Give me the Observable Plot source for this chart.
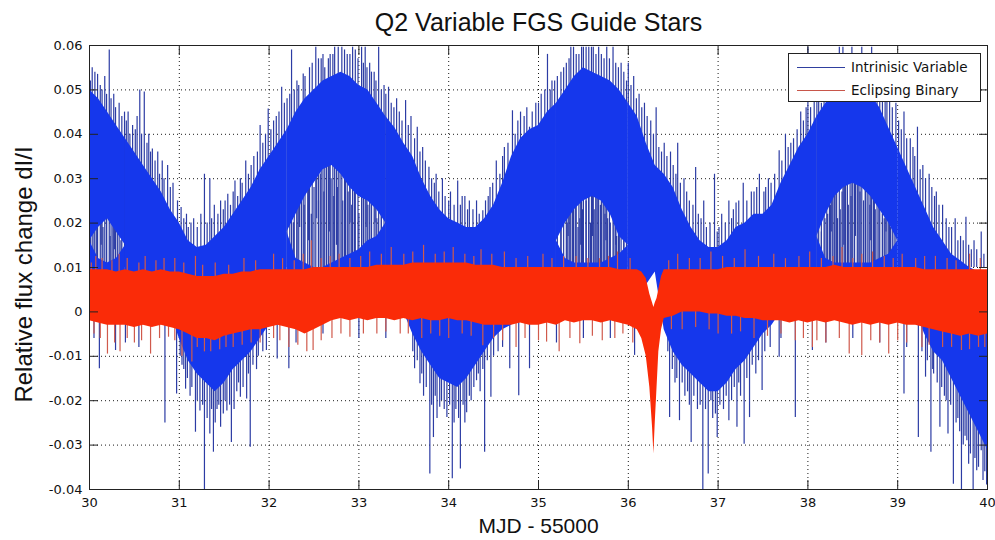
<!DOCTYPE html>
<html><head><meta charset="utf-8">
<script src="https://cdn.jsdelivr.net/npm/d3@7"></script>
<script src="https://cdn.jsdelivr.net/npm/@observablehq/plot@0.6"></script>
<style>
html,body{margin:0;padding:0;background:#fff;}
#wrap{position:relative;width:995px;height:540px;overflow:hidden;}
#legend{position:absolute;left:788px;top:53px;width:191px;height:47px;border:1px solid #222;background:#fff;font-family:"DejaVu Sans";font-size:13.5px;color:#111;}
.row{position:absolute;left:8px;height:20px;display:flex;align-items:center;white-space:nowrap;}
.sw{width:48px;height:0;border-top:1.5px solid;margin-right:6px;}
</style></head><body>
<div id="wrap"><div id="chart"></div>
<div id="legend">
  <div class="row" style="top:3px"><span class="sw" style="border-color:#2f3f9f"></span><span id="l1"></span></div>
  <div class="row" style="top:26px"><span class="sw" style="border-color:#c8564a"></span><span id="l2"></span></div>
</div></div>
<script>
const titleText = "Q2 Variable FGS Guide Stars";
const xLabelText = "MJD - 55000";
const yLabelText = "Relative flux change dI/I";
const seriesNames = ["Intrinisic Variable", "Eclipsing Binary"];
const xTicks = [30, 31, 32, 33, 34, 35, 36, 37, 38, 39, 40];
const xTickLabels = ["30", "31", "32", "33", "34", "35", "36", "37", "38", "39", "40"];
const yTicks = [-0.04, -0.03, -0.02, -0.01, 0, 0.01, 0.02, 0.03, 0.04, 0.05, 0.06];
const yTickLabels = ["-0.04", "-0.03", "-0.02", "-0.01", "0", "0.01", "0.02", "0.03", "0.04", "0.05", "0.06"];

// Sample positions (MJD - 55000) for the dense envelopes
const sampleX = [
  30.0, 30.1, 30.2, 30.3, 30.4, 30.5, 30.6, 30.7, 30.8, 30.9,
  31.0, 31.1, 31.2, 31.3, 31.4, 31.5, 31.6, 31.7, 31.8, 31.9,
  32.0, 32.1, 32.2, 32.3, 32.4, 32.5, 32.6, 32.7, 32.8, 32.9,
  33.0, 33.1, 33.2, 33.3, 33.4, 33.5, 33.6, 33.7, 33.8, 33.9,
  34.0, 34.1, 34.2, 34.3, 34.4, 34.5, 34.6, 34.7, 34.8, 34.9,
  35.0, 35.1, 35.2, 35.3, 35.4, 35.5, 35.6, 35.7, 35.8, 35.9,
  36.0, 36.1, 36.2, 36.3, 36.4, 36.5, 36.6, 36.7, 36.8, 36.9,
  37.0, 37.1, 37.2, 37.3, 37.4, 37.5, 37.6, 37.7, 37.8, 37.9,
  38.0, 38.1, 38.2, 38.3, 38.4, 38.5, 38.6, 38.7, 38.8, 38.9,
  39.0, 39.1, 39.2, 39.3, 39.4, 39.5, 39.6, 39.7, 39.8, 39.9,
  40.0];

// Intrinsic variable: upper / lower edge of the dense band
const blueHi = [
  0.050, 0.048, 0.045, 0.042, 0.039, 0.036, 0.033, 0.030, 0.027, 0.023,
  0.020, 0.016, 0.0145, 0.015, 0.017, 0.019, 0.022, 0.025, 0.028, 0.032,
  0.035, 0.038, 0.041, 0.045, 0.048, 0.050, 0.052, 0.053, 0.054, 0.053,
  0.051, 0.050, 0.047, 0.044, 0.0415, 0.038, 0.035, 0.030, 0.026, 0.023,
  0.021, 0.020, 0.019, 0.019, 0.021, 0.024, 0.029, 0.035, 0.039, 0.041,
  0.042, 0.045, 0.047, 0.050, 0.053, 0.055, 0.054, 0.053, 0.052, 0.050,
  0.047, 0.044, 0.038, 0.033, 0.031, 0.028, 0.023, 0.019, 0.016, 0.0145,
  0.0145, 0.016, 0.019, 0.020, 0.022, 0.022, 0.024, 0.029, 0.033, 0.037,
  0.040, 0.044, 0.047, 0.050, 0.051, 0.0505, 0.050, 0.049, 0.046, 0.0415,
  0.037, 0.0325, 0.028, 0.0235, 0.019, 0.016, 0.013, 0.0115, 0.010, 0.009,
  0.009];
const blueLo = [
  0, 0, 0, 0, 0, 0, 0, 0, 0, 0,
  -0.006, -0.011, -0.014, -0.016, -0.018, -0.016, -0.013, -0.011, -0.009, -0.006,
  -0.003, 0, 0, 0, 0, 0, 0, 0, 0, 0,
  0, 0, 0, 0, 0, 0, -0.005, -0.009, -0.012, -0.015,
  -0.016, -0.017, -0.015, -0.012, -0.009, -0.006, -0.004, -0.003, 0, 0,
  0, 0, 0, 0, 0, 0, 0, 0, 0, 0,
  0, 0, 0.006, 0.009, -0.004, -0.009, -0.012, -0.014, -0.016, -0.018,
  -0.018, -0.016, -0.013, -0.011, -0.008, -0.005, -0.003, 0, 0, 0,
  0, 0, 0, 0, 0, 0, 0, 0, 0, 0,
  0, 0, 0, -0.005, -0.009, -0.011, -0.015, -0.019, -0.023, -0.027,
  -0.031];
// Sparse (mostly white) notches inside the blue band near the maxima
const gapTop = [
  0.016, 0.019, 0.021, 0.018, 0.015, null, null, null, null, null,
  null, null, null, null, null, null, null, null, null, null,
  null, null, 0.018, 0.022, 0.026, 0.029, 0.032, 0.033, 0.031, 0.028,
  0.026, 0.025, 0.023, 0.020, null, null, null, null, null, null,
  null, null, null, null, null, null, null, null, null, null,
  null, null, 0.016, 0.020, 0.023, 0.025, 0.026, 0.025, 0.022, 0.017,
  0.015, null, null, null, null, null, null, null, null, null,
  null, null, null, null, null, null, null, null, null, null,
  null, 0.017, 0.022, 0.026, 0.028, 0.029, 0.028, 0.026, 0.023, 0.020,
  0.016, null, null, null, null, null, null, null, null, null,
  null];
const gapBottom = [
  0.016, 0.012, 0.011, 0.012, 0.015, null, null, null, null, null,
  null, null, null, null, null, null, null, null, null, null,
  null, null, 0.018, 0.012, 0.011, 0.010, 0.010, 0.011, 0.012, 0.013,
  0.014, 0.016, 0.017, 0.020, null, null, null, null, null, null,
  null, null, null, null, null, null, null, null, null, null,
  null, null, 0.016, 0.012, 0.011, 0.011, 0.011, 0.011, 0.012, 0.013,
  0.015, null, null, null, null, null, null, null, null, null,
  null, null, null, null, null, null, null, null, null, null,
  null, 0.017, 0.012, 0.011, 0.011, 0.011, 0.011, 0.011, 0.012, 0.013,
  0.016, null, null, null, null, null, null, null, null, null,
  null];

// Intrinsic variable: individual excursions [x, tip]
const blueSpikeUpBase = 0.010;
const blueSpikesUp = [
  [30.01,0.052],[30.06,0.054],[30.09,0.0535],[30.17,0.053],[30.22,0.059],[30.29,0.046],[30.33,0.047],[30.39,0.045],[30.43,0.045],[30.48,0.042],
  [30.56,0.050],[30.61,0.0495],[30.66,0.040],[30.70,0.0367],[30.76,0.036],[30.81,0.034],[30.87,0.033],[30.93,0.029],[31.02,0.0235],[31.08,0.022],
  [31.16,0.021],[31.28,0.031],[31.34,0.030],[31.39,0.024],[31.46,0.025],[31.54,0.0265],[31.62,0.0295],[31.68,0.030],[31.74,0.034],[31.83,0.035],
  [31.90,0.042],[31.99,0.0457],[32.05,0.043],[32.14,0.0506],[32.20,0.048],[32.25,0.059],[32.33,0.051],[32.38,0.0536],[32.45,0.055],[32.52,0.0596],
  [32.58,0.057],[32.62,0.055],[32.68,0.058],[32.73,0.0596],[32.81,0.0596],[32.87,0.058],[32.96,0.059],[33.03,0.0596],[33.07,0.0596],[33.12,0.056],
  [33.17,0.054],[33.22,0.0596],[33.28,0.051],[33.33,0.0506],[33.42,0.048],[33.52,0.0476],[33.58,0.044],[33.65,0.0416],[33.71,0.037],[33.78,0.0326],
  [33.86,0.031],[33.93,0.030],[34.02,0.027],[34.10,0.0295],[34.18,0.026],[34.23,0.025],[34.31,0.025],[34.38,0.0228],[34.46,0.028],[34.53,0.034],
  [34.62,0.037],[34.71,0.0453],[34.80,0.045],[34.90,0.0416],[34.97,0.047],[35.10,0.058],[35.18,0.052],[35.28,0.055],[35.36,0.0596],[35.42,0.058],
  [35.50,0.0596],[35.56,0.0596],[35.61,0.0596],[35.70,0.058],[35.76,0.0596],[35.83,0.0596],[35.92,0.056],[36.00,0.056],[36.06,0.053],[36.12,0.049],
  [36.18,0.047],[36.25,0.043],[36.31,0.046],[36.40,0.038],[36.47,0.036],[36.55,0.038],[36.62,0.030],[36.75,0.0325],[36.84,0.025],[36.96,0.031],
  [37.04,0.022],[37.12,0.025],[37.20,0.0245],[37.28,0.029],[37.37,0.027],[37.46,0.031],[37.56,0.030],[37.68,0.0363],[37.75,0.040],[37.84,0.039],
  [37.92,0.045],[38.00,0.0596],[38.07,0.048],[38.15,0.047],[38.24,0.054],[38.35,0.0596],[38.42,0.058],[38.52,0.057],[38.60,0.0596],[38.71,0.0596],
  [38.80,0.054],[38.88,0.050],[38.98,0.047],[39.07,0.045],[39.14,0.039],[39.22,0.0416],[39.28,0.033],[39.35,0.031],[39.43,0.027],[39.50,0.024],
  [39.57,0.019],[39.64,0.021],[39.70,0.017],[39.76,0.0213],[39.85,0.016],[39.93,0.018],[40.00,0.0228],
  // ragged upper edge
  [30.03,0.055],[30.12,0.051],[30.14,0.050],[30.19,0.049],[30.24,0.048],[30.27,0.049],[30.36,0.044],[30.41,0.043],[30.45,0.040],[30.51,0.041],
  [30.53,0.044],[30.58,0.040],[30.64,0.038],[30.68,0.036],[30.73,0.034],[30.78,0.031],[30.83,0.030],[30.90,0.028],[30.98,0.025],[31.05,0.021],
  [31.10,0.019],[31.13,0.020],[31.20,0.019],[31.24,0.022],[31.31,0.020],[31.36,0.021],[31.43,0.022],[31.49,0.023],[31.51,0.025],[31.57,0.024],
  [31.60,0.027],[31.65,0.026],[31.70,0.029],[31.77,0.031],[31.80,0.033],[31.87,0.036],[31.93,0.038],[31.96,0.040],[32.02,0.041],[32.08,0.044],
  [32.11,0.045],[32.17,0.047],[32.23,0.049],[32.28,0.050],[32.31,0.052],[32.40,0.053],[32.48,0.056],[32.55,0.057],[32.60,0.058],[32.66,0.057],
  [32.71,0.058],[32.77,0.0596],[32.84,0.059],[32.90,0.058],[32.93,0.0596],[32.99,0.057],[33.05,0.056],[33.09,0.055],[33.14,0.054],[33.19,0.052],
  [33.25,0.050],[33.30,0.049],[33.36,0.047],[33.39,0.046],[33.45,0.045],[33.48,0.043],[33.55,0.042],[33.62,0.039],[33.68,0.036],[33.74,0.034],
  [33.81,0.030],[33.84,0.029],[33.89,0.027],[33.96,0.026],[34.00,0.025],[34.06,0.024],[34.13,0.024],[34.15,0.026],[34.21,0.023],[34.27,0.023],
  [34.34,0.022],[34.41,0.025],[34.44,0.026],[34.49,0.029],[34.57,0.031],[34.60,0.035],[34.66,0.038],[34.74,0.040],[34.77,0.043],[34.84,0.044],
  [34.87,0.046],[34.93,0.045],[35.00,0.047],[35.03,0.049],[35.07,0.050],[35.13,0.050],[35.15,0.052],[35.21,0.053],[35.25,0.054],[35.31,0.056],
  [35.34,0.057],[35.39,0.0596],[35.45,0.058],[35.48,0.0596],[35.53,0.0596],[35.59,0.0596],[35.64,0.058],[35.67,0.0596],[35.73,0.057],[35.79,0.057],
  [35.86,0.056],[35.89,0.055],[35.95,0.054],[35.98,0.052],[36.03,0.051],[36.09,0.048],[36.15,0.046],[36.21,0.044],[36.28,0.040],[36.34,0.037],
  [36.37,0.036],[36.43,0.035],[36.50,0.033],[36.53,0.031],[36.58,0.029],[36.65,0.027],[36.68,0.025],[36.72,0.024],[36.78,0.022],[36.81,0.021],
  [36.87,0.019],[36.91,0.020],[36.99,0.018],[37.01,0.019],[37.08,0.020],[37.15,0.021],[37.17,0.023],[37.23,0.025],[37.32,0.025],[37.40,0.027],
  [37.43,0.028],[37.51,0.027],[37.53,0.028],[37.59,0.029],[37.63,0.031],[37.71,0.034],[37.78,0.037],[37.81,0.038],[37.88,0.041],[37.95,0.043],
  [37.98,0.046],[38.03,0.046],[38.10,0.049],[38.12,0.050],[38.18,0.052],[38.21,0.053],[38.27,0.055],[38.30,0.056],[38.32,0.057],[38.39,0.0596],
  [38.44,0.057],[38.47,0.056],[38.49,0.0596],[38.56,0.056],[38.58,0.058],[38.64,0.056],[38.68,0.057],[38.74,0.055],[38.77,0.054],[38.83,0.052],
  [38.86,0.050],[38.91,0.048],[38.94,0.046],[39.01,0.043],[39.04,0.041],[39.10,0.039],[39.17,0.037],[39.19,0.035],[39.25,0.032],[39.31,0.030],
  [39.38,0.028],[39.41,0.026],[39.46,0.024],[39.54,0.021],[39.60,0.019],[39.67,0.016],[39.73,0.016],[39.79,0.015],[39.82,0.014],[39.88,0.014],
  [39.96,0.013],
  // lines rising through the notches
  [30.05,0.018],[30.08,0.022],[30.15,0.019],[30.19,0.024],[30.23,0.017],[30.26,0.021],[30.31,0.019],[30.35,0.016],
  [32.27,0.020],[32.31,0.023],[32.36,0.026],[32.39,0.024],[32.43,0.030],[32.47,0.022],[32.50,0.028],[32.55,0.025],[32.57,0.031],[32.61,0.027],
  [32.64,0.033],[32.69,0.030],[32.72,0.026],[32.76,0.028],[32.79,0.033],[32.82,0.025],[32.85,0.031],[32.88,0.027],[32.92,0.024],[32.95,0.029],
  [33.00,0.022],[33.05,0.026],[33.10,0.024],[33.14,0.025],[33.20,0.021],[33.25,0.023],
  [35.25,0.019],[35.32,0.020],[35.35,0.022],[35.38,0.024],[35.41,0.026],[35.44,0.019],[35.46,0.021],[35.49,0.023],[35.53,0.025],[35.56,0.027],
  [35.58,0.020],[35.62,0.023],[35.64,0.028],[35.66,0.026],[35.69,0.024],[35.72,0.027],[35.74,0.022],[35.77,0.021],[35.80,0.020],[35.84,0.023],
  [35.87,0.017],[35.90,0.019],[35.95,0.016],
  [38.15,0.018],[38.19,0.021],[38.22,0.022],[38.25,0.024],[38.28,0.026],[38.30,0.028],[38.33,0.021],[38.36,0.023],[38.38,0.027],[38.41,0.029],
  [38.45,0.024],[38.48,0.026],[38.50,0.030],[38.55,0.029],[38.58,0.027],[38.62,0.025],[38.64,0.029],[38.66,0.028],[38.69,0.024],[38.73,0.027],
  [38.75,0.023],[38.79,0.025],[38.83,0.022],[38.85,0.021],[38.90,0.022],[38.92,0.019],[38.96,0.018]];
// lines hanging from the upper band into the notches [x, lower end]
const blueHangBase = 0.040;
const blueHang = [
  [30.13,0.015],[30.28,0.014],[32.34,0.019],[32.44,0.016],[32.53,0.021],[32.67,0.018],[32.75,0.015],[32.90,0.020],[33.08,0.019],[33.18,0.020],
  [35.33,0.017],[35.47,0.015],[35.60,0.017],[35.75,0.016],[35.86,0.015],[38.26,0.018],[38.40,0.015],[38.53,0.017],[38.70,0.016],[38.87,0.018]];
const blueSpikeDownBase = 0.0;
const blueSpikesDown = [
  [30.11,-0.0128],[30.29,-0.0087],[30.84,-0.025],[30.97,-0.0185],[31.03,-0.012],[31.07,-0.0174],[31.12,-0.019],[31.18,-0.0271],[31.23,-0.0223],[31.28,-0.040],
  [31.34,-0.0275],[31.38,-0.0316],[31.42,-0.022],[31.46,-0.026],[31.53,-0.0223],[31.58,-0.0294],[31.64,-0.018],[31.68,-0.0192],[31.75,-0.0196],[31.79,-0.0305],
  [31.86,-0.013],[31.97,-0.0087],[32.09,-0.0106],[32.22,-0.0128],[33.62,-0.0128],[33.68,-0.0162],[33.72,-0.019],[33.79,-0.0365],[33.83,-0.0283],[33.87,-0.024],
  [33.90,-0.0215],[33.98,-0.0238],[34.04,-0.0376],[34.08,-0.022],[34.13,-0.0354],[34.20,-0.0227],[34.25,-0.020],[34.31,-0.0155],[34.35,-0.018],[34.40,-0.0316],
  [34.47,-0.0192],[34.68,-0.0128],[34.78,-0.0189],[34.90,-0.0128],[36.07,-0.0098],[36.46,-0.0238],[36.52,-0.016],[36.57,-0.0245],[36.63,-0.019],[36.70,-0.0294],
  [36.77,-0.022],[36.83,-0.040],[36.89,-0.0365],[36.94,-0.024],[36.99,-0.0283],[37.06,-0.022],[37.12,-0.0245],[37.21,-0.026],[37.25,-0.019],[37.29,-0.0298],
  [37.35,-0.0238],[37.42,-0.014],[37.49,-0.0177],[37.68,-0.0102],[37.86,-0.0238],[38.05,-0.0087],[39.07,-0.0185],[39.23,-0.0283],[39.31,-0.0147],[39.37,-0.0316],
  [39.40,-0.014],[39.47,-0.026],[39.52,-0.019],[39.56,-0.0275],[39.62,-0.0388],[39.67,-0.024],[39.71,-0.040],[39.75,-0.028],[39.79,-0.0343],[39.84,-0.040],
  [39.88,-0.0358],[39.93,-0.0313],[39.97,-0.036],
  // ragged lower edge
  [31.01,-0.010],[31.05,-0.013],[31.09,-0.015],[31.14,-0.017],[31.20,-0.020],[31.26,-0.021],[31.31,-0.024],[31.36,-0.022],[31.40,-0.025],[31.44,-0.021],
  [31.49,-0.023],[31.51,-0.020],[31.56,-0.021],[31.61,-0.022],[31.66,-0.016],[31.71,-0.017],[31.77,-0.014],[31.82,-0.012],[31.88,-0.010],[31.93,-0.009],
  [33.60,-0.009],[33.65,-0.011],[33.70,-0.014],[33.75,-0.017],[33.81,-0.021],[33.85,-0.019],[33.92,-0.020],[33.95,-0.022],[34.01,-0.021],[34.06,-0.025],
  [34.11,-0.024],[34.16,-0.021],[34.18,-0.025],[34.23,-0.019],[34.28,-0.017],[34.33,-0.014],[34.38,-0.013],[34.43,-0.011],[34.50,-0.010],[34.55,-0.009],
  [34.60,-0.008],[36.44,-0.009],[36.49,-0.013],[36.54,-0.015],[36.60,-0.016],[36.66,-0.018],[36.68,-0.021],[36.73,-0.019],[36.80,-0.021],[36.86,-0.022],
  [36.92,-0.020],[36.97,-0.023],[37.02,-0.021],[37.09,-0.019],[37.15,-0.020],[37.18,-0.017],[37.23,-0.016],[37.32,-0.015],[37.38,-0.012],[37.45,-0.011],
  [37.52,-0.009],[37.58,-0.008],[39.27,-0.009],[39.33,-0.011],[39.39,-0.013],[39.44,-0.016],[39.49,-0.017],[39.54,-0.020],[39.59,-0.021],[39.65,-0.025],
  [39.69,-0.027],[39.73,-0.030],[39.77,-0.029],[39.81,-0.032],[39.86,-0.033],[39.90,-0.035],[39.95,-0.038],[39.99,-0.039],
  [30.05,-0.006],[30.40,-0.007],[30.55,-0.008],[32.30,-0.007],[32.60,-0.005],[33.00,-0.006],[33.30,-0.006],[35.20,-0.007],[35.50,-0.006],[35.80,-0.006],
  [37.70,-0.006],[38.20,-0.007],[38.50,-0.006],[38.80,-0.007],[39.10,-0.008]];

// Eclipsing binary: band edges (with extra samples through the eclipse)
const redX = [
  30.0, 30.1, 30.2, 30.3, 30.4, 30.5, 30.6, 30.7, 30.8, 30.9,
  31.0, 31.1, 31.2, 31.3, 31.4, 31.5, 31.6, 31.7, 31.8, 31.9,
  32.0, 32.1, 32.2, 32.3, 32.4, 32.5, 32.6, 32.7, 32.8, 32.9,
  33.0, 33.1, 33.2, 33.3, 33.4, 33.5, 33.6, 33.7, 33.8, 33.9,
  34.0, 34.1, 34.2, 34.3, 34.4, 34.5, 34.6, 34.7, 34.8, 34.9,
  35.0, 35.1, 35.2, 35.3, 35.4, 35.5, 35.6, 35.7, 35.8, 35.9,
  36.0, 36.1,
  36.15, 36.2, 36.24, 36.27, 36.285, 36.3, 36.32, 36.34, 36.37, 36.4,
  36.5, 36.6, 36.7, 36.8, 36.9,
  37.0, 37.1, 37.2, 37.3, 37.4, 37.5, 37.6, 37.7, 37.8, 37.9,
  38.0, 38.1, 38.2, 38.3, 38.4, 38.5, 38.6, 38.7, 38.8, 38.9,
  39.0, 39.1, 39.2, 39.3, 39.4, 39.5, 39.6, 39.7, 39.8, 39.9,
  40.0];
const redHi = [
  0.0095, 0.0095, 0.0095, 0.009, 0.0095, 0.009, 0.0095, 0.009, 0.0095, 0.009,
  0.009, 0.0085, 0.008, 0.008, 0.008, 0.0085, 0.0085, 0.009, 0.009, 0.0095,
  0.0095, 0.0095, 0.0095, 0.0095, 0.0095, 0.010, 0.010, 0.010, 0.010, 0.010,
  0.010, 0.010, 0.0105, 0.0105, 0.0105, 0.0105, 0.011, 0.011, 0.011, 0.011,
  0.011, 0.011, 0.011, 0.0105, 0.0105, 0.0105, 0.010, 0.010, 0.010, 0.010,
  0.010, 0.010, 0.010, 0.010, 0.010, 0.010, 0.010, 0.010, 0.010, 0.0095,
  0.0095, 0.0095,
  0.009, 0.0075, 0.004, 0.002, 0.001, 0.002, 0.003, 0.005, 0.008, 0.0095,
  0.0095, 0.0095, 0.0095, 0.0095, 0.0095,
  0.0095, 0.010, 0.010, 0.010, 0.010, 0.010, 0.010, 0.010, 0.010, 0.010,
  0.010, 0.010, 0.010, 0.0105, 0.010, 0.010, 0.010, 0.010, 0.010, 0.010,
  0.010, 0.010, 0.010, 0.0095, 0.0095, 0.0095, 0.0095, 0.0095, 0.0095, 0.0095,
  0.0095];
const redLo = [
  -0.002, -0.0025, -0.003, -0.003, -0.003, -0.0035, -0.003, -0.0035, -0.003, -0.0035,
  -0.004, -0.005, -0.006, -0.006, -0.0065, -0.0055, -0.005, -0.0045, -0.004, -0.004,
  -0.0035, -0.003, -0.0035, -0.004, -0.005, -0.004, -0.003, -0.002, -0.0015, -0.002,
  -0.0015, -0.002, -0.0015, -0.0015, -0.002, -0.0015, -0.002, -0.0015, -0.002, -0.002,
  -0.0015, -0.002, -0.002, -0.0025, -0.003, -0.003, -0.003, -0.003, -0.0025, -0.003,
  -0.003, -0.0025, -0.003, -0.002, -0.0025, -0.002, -0.002, -0.0025, -0.002, -0.0025,
  -0.003, -0.004,
  -0.006, -0.010, -0.017, -0.026, -0.032, -0.025, -0.017, -0.009, -0.004, -0.0015,
  -0.001, 0, 0, 0, -0.0005,
  -0.0005, -0.001, -0.001, -0.0015, -0.0015, -0.002, -0.002, -0.002, -0.0025, -0.002,
  -0.0025, -0.002, -0.0025, -0.002, -0.0025, -0.003, -0.0025, -0.003, -0.0025, -0.003,
  -0.0025, -0.003, -0.003, -0.0035, -0.004, -0.0045, -0.005, -0.0055, -0.005, -0.0055,
  -0.005];
const redSpikeBase = 0.003;
const redSpikesUp = [
  [30.07,0.0125],[30.33,0.013],[30.62,0.0125],[30.95,0.012],[31.18,0.0125],[31.72,0.012],[32.05,0.013],[32.47,0.016],[32.78,0.013],[33.12,0.0135],
  [33.36,0.0145],[33.72,0.015],[34.05,0.0145],[34.36,0.014],[34.62,0.0135],[35.05,0.013],[35.42,0.0125],[35.88,0.0135],[36.55,0.013],[36.92,0.0135],
  [37.30,0.014],[37.62,0.013],[38.02,0.0135],[38.38,0.0145],[38.72,0.0135],[39.05,0.013],[39.42,0.0125],[39.80,0.013],
  [30.02,0.011],[30.14,0.012],[30.25,0.0115],[30.42,0.012],[30.55,0.011],[30.74,0.0115],[30.83,0.012],[31.05,0.011],[31.26,0.0105],[31.40,0.011],
  [31.55,0.0105],[31.85,0.0115],[32.15,0.012],[32.28,0.0115],[32.38,0.013],[32.58,0.012],[32.68,0.0125],[32.90,0.012],[33.02,0.0125],[33.25,0.013],
  [33.50,0.013],[33.60,0.0135],[33.85,0.013],[33.95,0.0135],[34.18,0.013],[34.28,0.0125],[34.48,0.013],[34.75,0.012],[34.88,0.0125],[35.15,0.012],
  [35.28,0.0125],[35.55,0.012],[35.68,0.012],[35.78,0.0125],[36.02,0.012],[36.45,0.0115],[36.68,0.012],[36.80,0.012],[37.05,0.0125],[37.18,0.012],
  [37.45,0.0125],[37.75,0.012],[37.90,0.0125],[38.15,0.012],[38.28,0.0125],[38.50,0.012],[38.60,0.013],[38.85,0.0125],[38.95,0.012],[39.20,0.012],
  [39.30,0.0125],[39.55,0.012],[39.65,0.0115],[39.92,0.012]];
const redSpikesDown = [
  [30.20,-0.0095],[30.34,-0.009],[30.50,-0.007],[30.68,-0.0095],[30.88,-0.0057],[31.03,-0.010],[31.14,-0.0113],[31.35,-0.009],[31.60,-0.008],[31.90,-0.007],
  [32.22,-0.008],[32.42,-0.009],[32.49,-0.0087],[32.70,-0.006],[32.90,-0.0057],[33.20,-0.005],[33.46,-0.005],[33.70,-0.006],[34.00,-0.006],[34.38,-0.0076],
  [34.75,-0.008],[35.09,-0.0068],[35.23,-0.009],[35.46,-0.0072],[35.71,-0.0065],[35.94,-0.005],[36.60,-0.004],[37.00,-0.005],[37.40,-0.006],[37.86,-0.0065],
  [38.05,-0.008],[38.20,-0.007],[38.46,-0.0095],[38.60,-0.0098],[38.90,-0.0095],[39.10,-0.007],[39.27,-0.008],[39.50,-0.008],[39.71,-0.0087],[39.90,-0.008],
  [30.05,-0.005],[30.12,-0.006],[30.28,-0.007],[30.42,-0.006],[30.58,-0.0065],[30.78,-0.006],[30.95,-0.0065],[31.20,-0.008],[31.28,-0.009],[31.45,-0.0085],
  [31.52,-0.008],[31.70,-0.0075],[31.80,-0.007],[32.05,-0.006],[32.12,-0.0065],[32.32,-0.0075],[32.58,-0.0065],[32.80,-0.005],[33.05,-0.005],[33.30,-0.0045],
  [33.55,-0.005],[33.80,-0.005],[33.90,-0.0055],[34.15,-0.005],[34.25,-0.0055],[34.50,-0.006],[34.60,-0.0065],[34.85,-0.006],[35.00,-0.0065],[35.35,-0.006],
  [35.60,-0.0055],[35.85,-0.006],[36.05,-0.007],[36.48,-0.004],[36.75,-0.0035],[36.90,-0.004],[37.15,-0.005],[37.25,-0.0045],[37.55,-0.0055],[37.70,-0.005],
  [37.95,-0.006],[38.10,-0.0065],[38.35,-0.006],[38.70,-0.0065],[38.80,-0.007],[39.00,-0.0065],[39.35,-0.0075],[39.60,-0.008],[39.80,-0.0085],[39.97,-0.008]];

const blueFill = "#1537ec", blueLine = "#2c3ca4";
const redFill = "#fa2b08", redLine = "#d05a4c";

// Split the blue band: solid where there is no notch, upper + lower parts around a notch
const blueRows = sampleX.map((x, i) => {
  const gt = gapTop[i], gb = gapBottom[i];
  const edge = gt == null || gt === gb;
  return {x, hi: blueHi[i], lo: blueLo[i],
    fullHi: edge ? blueHi[i] : null,
    upLo: gt, lowHi: gb};
});
const redRows = redX.map((x, i) => ({x, hi: redHi[i], lo: redLo[i]}));

const chart = Plot.plot({
  width: 995, height: 540,
  marginLeft: 89, marginRight: 8, marginTop: 45, marginBottom: 51,
  style: {fontFamily: "DejaVu Sans", fontSize: "13px", background: "#fff", color: "#111"},
  x: {domain: [30, 40]},
  y: {domain: [-0.04, 0.06]},
  marks: [
    Plot.gridX({ticks: xTicks, stroke: "#000", strokeOpacity: 0.9, strokeDasharray: "1,3"}),
    Plot.gridY({ticks: yTicks, stroke: "#000", strokeOpacity: 0.9, strokeDasharray: "1,3"}),
    Plot.ruleX(blueSpikesUp, {x: d => d[0], y1: blueSpikeUpBase, y2: d => d[1], stroke: blueLine, strokeWidth: 1.2, clip: true}),
    Plot.ruleX(blueHang, {x: d => d[0], y1: blueHangBase, y2: d => d[1], stroke: blueLine, strokeWidth: 1.2, clip: true}),
    Plot.ruleX(blueSpikesDown, {x: d => d[0], y1: blueSpikeDownBase, y2: d => d[1], stroke: blueLine, strokeWidth: 1.2, clip: true}),
    Plot.areaY(blueRows, {x: "x", y1: "lo", y2: "fullHi", fill: blueFill, curve: "linear", clip: true}),
    Plot.areaY(blueRows, {x: "x", y1: "upLo", y2: "hi", fill: blueFill, curve: "linear", clip: true}),
    Plot.areaY(blueRows, {x: "x", y1: d => d.lowHi == null ? null : d.lo, y2: "lowHi", fill: blueFill, curve: "linear", clip: true}),
    Plot.ruleX(redSpikesUp, {x: d => d[0], y1: redSpikeBase, y2: d => d[1], stroke: redLine, strokeWidth: 1.2, clip: true}),
    Plot.ruleX(redSpikesDown, {x: d => d[0], y1: redSpikeBase, y2: d => d[1], stroke: redLine, strokeWidth: 1.2, clip: true}),
    Plot.areaY(redRows, {x: "x", y1: "lo", y2: "hi", fill: redFill, curve: "linear", clip: true}),
    Plot.frame({stroke: "#222"}),
    Plot.axisX({anchor: "bottom", ticks: xTicks, tickFormat: d => xTickLabels[xTicks.indexOf(d)], tickSize: 0, tickPadding: 8, fontSize: 13, label: null}),
    Plot.axisY({anchor: "left", ticks: yTicks, tickFormat: d => yTickLabels[yTicks.indexOf(d)], tickSize: 0, tickPadding: 7, fontSize: 13, label: null}),
    Plot.axisX({anchor: "bottom", ticks: xTicks, tickFormat: () => "", tickSize: -9, label: null, stroke: "#222"}),
    Plot.axisX({anchor: "top", ticks: xTicks, tickFormat: () => "", tickSize: -9, label: null, stroke: "#222"}),
    Plot.axisY({anchor: "left", ticks: yTicks, tickFormat: () => "", tickSize: -9, label: null, stroke: "#222"}),
    Plot.axisY({anchor: "right", ticks: yTicks, tickFormat: () => "", tickSize: -9, label: null, stroke: "#222"}),
    Plot.text([titleText], {text: d => d, frameAnchor: "top", dy: -23, lineAnchor: "middle", textAnchor: "middle", fontSize: 25, fontFamily: "Liberation Sans", fill: "#111"}),
    Plot.text([xLabelText], {text: d => d, frameAnchor: "bottom", dy: 37, lineAnchor: "middle", textAnchor: "middle", fontSize: 21, fontFamily: "Liberation Sans", fill: "#111"}),
    Plot.text([yLabelText], {text: d => d, frameAnchor: "left", dx: -65, dy: 7, rotate: -90, lineAnchor: "middle", textAnchor: "middle", fontSize: 24, fontFamily: "Liberation Sans", fill: "#111"})
  ]
});
document.getElementById("chart").appendChild(chart);
document.getElementById("l1").textContent = seriesNames[0];
document.getElementById("l2").textContent = seriesNames[1];
</script>
</body></html>
